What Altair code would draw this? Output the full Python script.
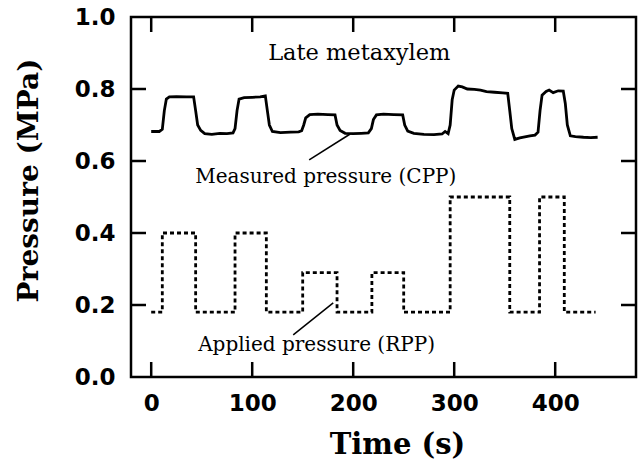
import altair as alt
import pandas as pd

# Measured pressure (CPP)
cpp_t = [0, 8, 11, 13, 15, 18, 25, 35, 42, 44, 46, 49, 53, 60, 68, 75, 81, 83, 85, 87,
         92, 100, 108, 113, 115, 117, 120, 128, 138, 146, 149, 151, 153, 157, 165, 175,
         182, 184, 187, 192, 200, 208, 215, 218, 220, 223, 230, 240, 249, 251, 254, 260,
         270, 280, 288, 291, 294, 296, 298, 300, 304, 308, 313, 320, 326, 332, 340, 348,
         353, 355, 357, 360, 365, 370, 375, 380, 383, 385, 387, 391, 394, 398, 403, 408,
         410, 412, 415, 420, 428, 435, 442]
cpp_p = [0.682, 0.682, 0.688, 0.74, 0.772, 0.778, 0.779, 0.778, 0.778, 0.74, 0.70, 0.685,
         0.676, 0.674, 0.677, 0.676, 0.678, 0.69, 0.74, 0.772, 0.776, 0.777, 0.778, 0.781,
         0.74, 0.70, 0.682, 0.679, 0.680, 0.681, 0.684, 0.70, 0.72, 0.729, 0.730, 0.729,
         0.728, 0.70, 0.685, 0.677, 0.676, 0.677, 0.678, 0.69, 0.715, 0.728, 0.730, 0.729,
         0.728, 0.70, 0.683, 0.677, 0.674, 0.673, 0.675, 0.682, 0.676, 0.70, 0.77, 0.797,
         0.808, 0.806, 0.800, 0.799, 0.797, 0.793, 0.791, 0.789, 0.788, 0.74, 0.69, 0.660,
         0.664, 0.667, 0.670, 0.672, 0.68, 0.74, 0.783, 0.793, 0.797, 0.790, 0.795, 0.794,
         0.76, 0.70, 0.670, 0.668, 0.666, 0.665, 0.666]

# Applied pressure (RPP): step changes
rpp_t = [0, 11, 44, 83, 114, 150, 184, 218.5, 250, 296, 355, 384.5, 409, 440]
rpp_p = [0.18, 0.40, 0.18, 0.40, 0.18, 0.29, 0.18, 0.29, 0.18, 0.50, 0.18, 0.50, 0.18, 0.18]

x_ticks = [0, 100, 200, 300, 400]
y_ticks = [0.0, 0.2, 0.4, 0.6, 0.8, 1.0]

labels_text = ["Late metaxylem", "Measured pressure (CPP)", "Applied pressure (RPP)"]
labels_t = [115.8, 43.6, 46.5]
labels_p = [0.881, 0.539, 0.072]
labels_size = [22.5, 20, 20]

leader_t1 = [156.4, 140.6]
leader_p1 = [0.603, 0.117]
leader_t2 = [197.0, 180.2]
leader_p2 = [0.675, 0.206]

W, H = 505, 360
TICK = 15
SERIF = "DejaVu Serif"

cpp = pd.DataFrame({"t": cpp_t, "p": cpp_p})
rpp = pd.DataFrame({"t": rpp_t, "p": rpp_p})
lab = pd.DataFrame({"text": labels_text, "t": labels_t, "p": labels_p, "size": labels_size})
lead = pd.DataFrame({"t1": leader_t1, "p1": leader_p1, "t2": leader_t2, "p2": leader_p2})
xt = pd.DataFrame({"t": x_ticks})
yt = pd.DataFrame({"p": y_ticks[1:-1]})

xscale = alt.Scale(domain=[-20, 480], nice=False, zero=False)
yscale = alt.Scale(domain=[0, 1], nice=False, zero=False)

x_bottom = alt.Axis(values=x_ticks, title="Time (s)", domain=False, grid=False,
                    ticks=False, labelFont="DejaVu Sans",
                    labelFontWeight="bold", labelFontSize=23, labelColor="black",
                    labelPadding=15, titleFont=SERIF, titleFontWeight="bold",
                    titleFontSize=29, titleColor="black", titleX=266, titleY=76,
                    titleBaseline="alphabetic", titleAlign="center")
y_left = alt.Axis(values=y_ticks, title="Pressure (MPa)", format=".1f", domain=False,
                  grid=False, ticks=False,
                  labelFont="DejaVu Sans", labelFontWeight="bold", labelFontSize=23,
                  labelColor="black", labelPadding=16, titleFont=SERIF,
                  titleFontWeight="bold", titleFontSize=28, titleColor="black",
                  titleX=-94, titleY=163, titleAngle=-90, titleBaseline="alphabetic",
                  titleAlign="center")

cpp_line = alt.Chart(cpp).mark_line(color="black", strokeWidth=2.8).encode(
    x=alt.X("t:Q", scale=xscale, axis=x_bottom),
    y=alt.Y("p:Q", scale=yscale, axis=y_left),
)

rpp_line = alt.Chart(rpp).mark_line(color="black", strokeWidth=2.8, strokeDash=[4, 3],
                                    interpolate="step-after").encode(
    x=alt.X("t:Q", scale=xscale),
    y=alt.Y("p:Q", scale=yscale),
)

# inward tick marks on all four sides
tick_style = dict(color="black", strokeWidth=2.5)
xt_bottom = alt.Chart(xt).mark_rule(**tick_style).encode(
    x=alt.X("t:Q", scale=xscale), y=alt.value(H), y2=alt.value(H - TICK))
xt_top = alt.Chart(xt).mark_rule(**tick_style).encode(
    x=alt.X("t:Q", scale=xscale), y=alt.value(0), y2=alt.value(TICK))
yt_left = alt.Chart(yt).mark_rule(**tick_style).encode(
    y=alt.Y("p:Q", scale=yscale), x=alt.value(0), x2=alt.value(TICK))
yt_right = alt.Chart(yt).mark_rule(**tick_style).encode(
    y=alt.Y("p:Q", scale=yscale), x=alt.value(W), x2=alt.value(W - TICK))

texts = alt.Chart(lab).mark_text(align="left", baseline="alphabetic",
                                 font=SERIF, color="black").encode(
    x=alt.X("t:Q", scale=xscale),
    y=alt.Y("p:Q", scale=yscale),
    text="text:N",
    size=alt.Size("size:Q", scale=None, legend=None),
)

leaders = alt.Chart(lead).mark_rule(color="black", strokeWidth=1.5).encode(
    x=alt.X("t1:Q", scale=xscale),
    y=alt.Y("p1:Q", scale=yscale),
    x2="t2:Q",
    y2="p2:Q",
)

chart = alt.layer(cpp_line, rpp_line, xt_bottom, xt_top, yt_left, yt_right,
                  texts, leaders).properties(
    width=W, height=H,
    background="white",
    autosize=alt.AutoSizeParams(type="none"),
    padding={"left": 131, "top": 17, "right": 3, "bottom": 85},
).configure_view(stroke="black", strokeWidth=2.5)

chart.save("out.html", embed_options={"renderer": "svg", "actions": False})
